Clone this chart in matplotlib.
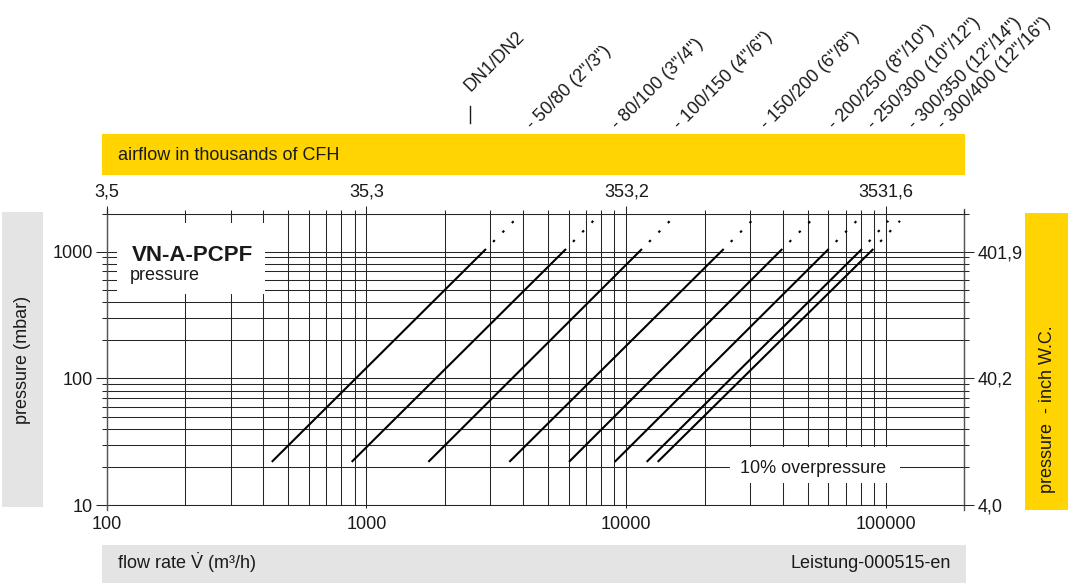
import matplotlib
matplotlib.use("Agg")
import matplotlib.pyplot as plt
from matplotlib.patches import Rectangle
from matplotlib.lines import Line2D
from matplotlib.ticker import FixedLocator, FixedFormatter, NullFormatter

plt.rcParams['font.family'] = ['Liberation Sans', 'DejaVu Sans']
plt.rcParams['mathtext.fontset'] = 'custom'
plt.rcParams['mathtext.rm'] = 'Liberation Sans'
plt.rcParams['mathtext.it'] = 'Liberation Sans:italic'
plt.rcParams['mathtext.bf'] = 'Liberation Sans:bold'

# ---------------- data ----------------
flow_ticks = [100, 1000, 10000, 100000]
flow_tick_labels = ['100', '1000', '10000', '100000']
cfh_tick_labels = ['3,5', '35,3', '353,2', '3531,6']
pressure_ticks = [10, 100, 1000]
pressure_tick_labels = ['10', '100', '1000']
inwc_tick_labels = ['4,0', '40,2', '401,9']

flow_minor = [200, 300, 400, 500, 600, 700, 800, 900,
              2000, 3000, 4000, 5000, 6000, 7000, 8000, 9000,
              20000, 30000, 40000, 50000, 60000, 70000, 80000, 90000, 200000]
pressure_minor = [20, 30, 40, 50, 60, 70, 80, 90,
                  200, 300, 400, 500, 600, 700, 800, 900, 2000]

sizes = ['- 50/80 (2"/3")', '- 80/100 (3"/4")', '- 100/150 (4"/6")',
         '- 150/200 (6"/8")', '- 200/250 (8"/10")', '- 250/300 (10"/12")',
         '- 300/350 (12"/14")', '- 300/400 (12"/16")']
p_low = 22        # mbar, start of curves (10% overpressure)
p_high = 1050     # mbar, end of solid part
p_dotted = 1750   # mbar, end of dotted extension
q_low = [432, 877, 1730, 3546, 6018, 9024, 11980, 13210]
q_high = [2884, 5861, 11490, 23710, 39850, 60120, 80760, 89300]
q_dotted = [3696, 7464, 14730, 30390, 51270, 77050, 101970, 113100]

title = 'VN-A-PCPF'
subtitle = 'pressure'
note = '10% overpressure'

# ---------------- layout ----------------
W, H = 1068, 586
fig = plt.figure(figsize=(W / 100, H / 100), dpi=100)
fig.patch.set_facecolor('white')

def fx(x):
    return x / W

def fy(y):
    return 1 - y / H

AX_L, AX_R, AX_T, AX_B = 106.7, 964.3, 213.5, 505.3
ax = fig.add_axes([fx(AX_L), fy(AX_B), (AX_R - AX_L) / W, (AX_B - AX_T) / H])

YELLOW = '#FFD400'
GREY = '#E4E4E4'
LINE = '#262626'
TXT = '#1a1a1a'

def band(x0, y0, x1, y1, color):
    fig.add_artist(Rectangle((fx(x0), fy(y1)), (x1 - x0) / W, (y1 - y0) / H,
                             transform=fig.transFigure, facecolor=color,
                             edgecolor='none', zorder=0))

band(101.7, 134.3, 965.0, 175.3, YELLOW)
band(2.0, 212.0, 43.0, 507.0, GREY)
band(1025.0, 213.0, 1068.0, 510.0, YELLOW)
band(102.0, 545.0, 965.7, 583.3, GREY)

fig.text(fx(117.7), fy(155.0), 'airflow in thousands of CFH', fontsize=13,
         ha='left', va='center', color=TXT)
fig.text(fx(22.5), fy(359.5), 'pressure (mbar)', fontsize=13, rotation=90,
         ha='center', va='center', color=TXT)
fig.text(fx(1048.0), fy(493.0), 'pressure  - inch W.C.', fontsize=13, rotation=90,
         ha='center', va='bottom', color=TXT)
fig.text(fx(117.0), fy(569.0), r'flow rate $\mathrm{\dot{V}}$ (m³/h)', fontsize=13,
         ha='left', va='baseline', color=TXT)
fig.text(fx(951.0), fy(564.0), 'Leistung-000515-en', fontsize=13,
         ha='right', va='center', color=TXT)

# top rotated size labels
label_x_px = [533.2, 618.5, 680.5, 767.5, 835.5, 874.5, 915.5, 944.5]
label_y_px = 129.7
for lab, lx in zip(sizes, label_x_px):
    fig.text(fx(lx), fy(label_y_px), lab, fontsize=13, rotation=45,
             rotation_mode='anchor', ha='left', va='baseline', color=TXT)
fig.text(fx(470.0), fy(92.0), 'DN1/DN2', fontsize=13, rotation=45,
         rotation_mode='anchor', ha='left', va='baseline', color=TXT)
fig.add_artist(Line2D([fx(470.0), fx(470.0)], [fy(106.0), fy(123.0)],
                      transform=fig.transFigure, color=TXT, lw=1.0))

# ---------------- main axes ----------------
ax.set_xscale('log')
ax.set_yscale('log')
ax.set_xlim(100, 200000)
ax.set_ylim(10, 2000)
ax.set_axisbelow(True)

ax.xaxis.set_major_locator(FixedLocator(flow_ticks))
ax.xaxis.set_major_formatter(FixedFormatter(flow_tick_labels))
ax.xaxis.set_minor_locator(FixedLocator(flow_minor))
ax.xaxis.set_minor_formatter(NullFormatter())
ax.yaxis.set_major_locator(FixedLocator(pressure_ticks))
ax.yaxis.set_major_formatter(FixedFormatter(pressure_tick_labels))
ax.yaxis.set_minor_locator(FixedLocator(pressure_minor))
ax.yaxis.set_minor_formatter(NullFormatter())

ax.grid(which='both', color=LINE, lw=0.75)
ax.tick_params(axis='x', which='major', direction='out', length=2.5, width=0.75,
               color=LINE, labelsize=13, pad=5.0, labelcolor=TXT)
ax.tick_params(axis='x', which='minor', length=0)
ax.tick_params(axis='y', which='major', direction='out', length=8, width=0.75,
               color=LINE, labelsize=13, pad=2.2, labelcolor=TXT)
ax.tick_params(axis='y', which='minor', direction='out', length=3.6, width=0.75,
               color=LINE)
for s in ax.spines.values():
    s.set_color(LINE)
    s.set_linewidth(0.75)

# spine extensions
ext_b = (510 - AX_B) / (AX_B - AX_T)
ext_t = (AX_T - 209) / (AX_B - AX_T)
for xa in (0, 1):
    ax.plot([xa, xa], [-ext_b, 1 + ext_t], transform=ax.transAxes,
            clip_on=False, color='#555555', lw=1.0, zorder=3)

# top axis (thousands of CFH)
axt = ax.twiny()
axt.set_xscale('log')
axt.set_xlim(100, 200000)
axt.xaxis.set_major_locator(FixedLocator(flow_ticks))
axt.xaxis.set_major_formatter(FixedFormatter(cfh_tick_labels))
axt.xaxis.set_minor_locator(FixedLocator(flow_minor))
axt.xaxis.set_minor_formatter(NullFormatter())
axt.tick_params(axis='x', which='major', direction='out', length=5.8, width=0.75,
                color=LINE, labelsize=13, pad=3.4, labelcolor=TXT)
axt.tick_params(axis='x', which='minor', direction='out', length=2.9, width=0.75,
                color=LINE)
for s in axt.spines.values():
    s.set_visible(False)

# right axis (inch W.C.)
axr = ax.twinx()
axr.set_yscale('log')
axr.set_ylim(10, 2000)
axr.yaxis.set_major_locator(FixedLocator(pressure_ticks))
axr.yaxis.set_major_formatter(FixedFormatter(inwc_tick_labels))
axr.yaxis.set_minor_locator(FixedLocator(pressure_minor))
axr.yaxis.set_minor_formatter(NullFormatter())
axr.tick_params(axis='y', which='major', direction='out', length=7.2, width=0.75,
                color=LINE, labelsize=13, pad=2.2, labelcolor=TXT)
axr.tick_params(axis='y', which='minor', direction='out', length=3.6, width=0.75,
                color=LINE)
for s in axr.spines.values():
    s.set_visible(False)

# white label boxes (mask the grid)
ax.add_patch(Rectangle(((117 - AX_L) / (AX_R - AX_L), (AX_B - 294) / (AX_B - AX_T)),
                       (265 - 117) / (AX_R - AX_L), (294 - 222.5) / (AX_B - AX_T),
                       transform=ax.transAxes, facecolor='white', edgecolor='none',
                       zorder=1))
ax.add_patch(Rectangle(((730 - AX_L) / (AX_R - AX_L), (AX_B - 483) / (AX_B - AX_T)),
                       (900 - 730) / (AX_R - AX_L), (483 - 447) / (AX_B - AX_T),
                       transform=ax.transAxes, facecolor='white', edgecolor='none',
                       zorder=1))

ax.text((131.7 - AX_L) / (AX_R - AX_L), (AX_B - 260.7) / (AX_B - AX_T), title,
        transform=ax.transAxes, fontsize=16, fontweight='bold', ha='left',
        va='baseline', color=TXT, zorder=4)
ax.text((129.3 - AX_L) / (AX_R - AX_L), (AX_B - 280.0) / (AX_B - AX_T), subtitle,
        transform=ax.transAxes, fontsize=13, ha='left', va='baseline',
        color=TXT, zorder=4)
ax.text((813 - AX_L) / (AX_R - AX_L), (AX_B - 473.0) / (AX_B - AX_T), note,
        transform=ax.transAxes, fontsize=13, ha='center', va='baseline',
        color=TXT, zorder=4)

# curves
for ql, qh, qd in zip(q_low, q_high, q_dotted):
    ax.plot([ql, qh], [p_low, p_high], color='black', lw=1.5,
            solid_capstyle='butt', zorder=2)
    ax.plot([qh, qd], [p_high, p_dotted], color='black', lw=1.5,
            linestyle=(1.6, (1.2, 5.2)), zorder=2)

fig.savefig('out.png', dpi=100, facecolor='white')
